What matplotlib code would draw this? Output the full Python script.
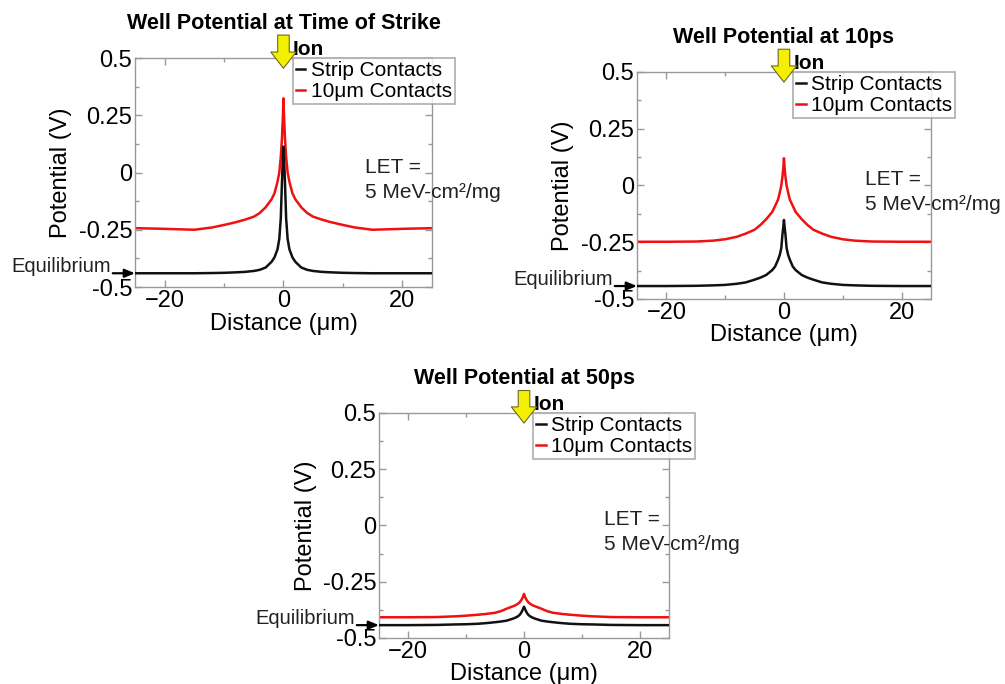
import matplotlib
matplotlib.use("Agg")
from matplotlib import pyplot as plt

plt.rcParams['font.family'] = ['Liberation Sans', 'DejaVu Sans']

# distance samples (um)
dist = [-25, -20, -15, -12, -10, -8, -6.5, -5, -4, -3, -2, -1.5, -1, -0.7, -0.45, -0.25, -0.1, 0,
        0.1, 0.25, 0.45, 0.7, 1, 1.5, 2, 3, 4, 5, 6.5, 8, 10, 12, 15, 20, 25]

# time of strike
strip_t0 = [-0.44, -0.44, -0.44, -0.439, -0.438, -0.436, -0.434, -0.43, -0.425, -0.415, -0.39,
            -0.37, -0.335, -0.29, -0.2, -0.04, 0.06, 0.113,
            0.06, -0.04, -0.2, -0.29, -0.335, -0.37, -0.39, -0.415, -0.425, -0.43, -0.434,
            -0.436, -0.438, -0.439, -0.44, -0.44, -0.44]
ten_t0 = [-0.243, -0.246, -0.25, -0.24, -0.229, -0.217, -0.206, -0.193, -0.177, -0.152, -0.117,
          -0.09, -0.04, 0.0, 0.068, 0.15, 0.24, 0.324,
          0.24, 0.15, 0.068, 0.0, -0.04, -0.09, -0.117, -0.152, -0.177, -0.193, -0.206,
          -0.217, -0.229, -0.24, -0.25, -0.246, -0.243]

# 10 ps
strip_t10 = [-0.443, -0.443, -0.442, -0.44, -0.438, -0.433, -0.427, -0.415, -0.406, -0.394, -0.373,
             -0.357, -0.327, -0.305, -0.275, -0.215, -0.18, -0.152,
             -0.18, -0.215, -0.275, -0.305, -0.327, -0.357, -0.373, -0.394, -0.406, -0.415, -0.427,
             -0.433, -0.438, -0.44, -0.442, -0.443, -0.443]
ten_t10 = [-0.248, -0.248, -0.247, -0.243, -0.237, -0.226, -0.212, -0.195, -0.174, -0.148, -0.117,
           -0.09, -0.062, -0.03, 0.0, 0.039, 0.08, 0.12,
           0.08, 0.039, 0.0, -0.03, -0.062, -0.09, -0.117, -0.148, -0.174, -0.195, -0.212,
           -0.226, -0.237, -0.243, -0.247, -0.248, -0.248]

# 50 ps
strip_t50 = [-0.443, -0.443, -0.442, -0.44, -0.439, -0.437, -0.434, -0.43, -0.427, -0.423, -0.415,
             -0.41, -0.403, -0.396, -0.386, -0.376, -0.367, -0.361,
             -0.367, -0.376, -0.386, -0.396, -0.403, -0.41, -0.415, -0.423, -0.427, -0.43, -0.434,
             -0.437, -0.439, -0.44, -0.442, -0.443, -0.443]
ten_t50 = [-0.408, -0.408, -0.407, -0.404, -0.401, -0.397, -0.393, -0.388, -0.381, -0.37, -0.36,
           -0.355, -0.347, -0.34, -0.331, -0.322, -0.312, -0.304,
           -0.312, -0.322, -0.331, -0.34, -0.347, -0.355, -0.36, -0.37, -0.381, -0.388, -0.393,
           -0.397, -0.401, -0.404, -0.407, -0.408, -0.408]

titles = ['Well Potential at Time of Strike', 'Well Potential at 10ps', 'Well Potential at 50ps']
strips = [strip_t0, strip_t10, strip_t50]
tens = [ten_t0, ten_t10, ten_t50]
# axes rectangles in figure fraction
rects = [[0.1343, 0.5804, 0.2955, 0.3348],
         [0.6338, 0.5629, 0.2925, 0.3319],
         [0.3771, 0.0673, 0.2886, 0.3289]]

fig = plt.figure(figsize=(10.05, 6.84), dpi=100)

for k in range(3):
    ax = fig.add_axes(rects[k])
    ax.plot(dist, tens[k], color='#f01010', lw=1.8, label='10\u03bcm Contacts', zorder=2,
            solid_joinstyle='round')
    ax.plot(dist, strips[k], color='#111111', lw=1.8, label='Strip Contacts', zorder=3,
            solid_joinstyle='round')
    ax.set_xlim(-25, 25)
    ax.set_ylim(-0.5, 0.5)
    ax.set_xticks([-20, 0, 20])
    ax.set_xticks([-10, 10], minor=True)
    ax.set_yticks([-0.5, -0.25, 0, 0.25, 0.5])
    ax.set_yticklabels(['-0.5', '-0.25', '0', '0.25', '0.5'])
    ax.set_yticks([-0.375, -0.125, 0.125, 0.375], minor=True)
    ax.tick_params(which='both', direction='in', top=True, right=True, color='#999999',
                   labelsize=17, width=1)
    ax.tick_params(which='major', length=5, pad=2)
    ax.tick_params(which='minor', length=3)
    for s in ax.spines.values():
        s.set_color('#999999')
        s.set_linewidth(1)
    ax.set_xlabel('Distance (\u03bcm)', fontsize=17)
    ax.set_ylabel('Potential (V)', fontsize=17)
    ax.xaxis.set_label_coords(0.5, -0.112)
    ax.yaxis.set_label_coords(-0.213, 0.5)

    ax.text(0.5, 1.127, titles[k], transform=ax.transAxes, ha='center', va='baseline',
            fontsize=15.5, fontweight='bold')

    # legend (black first)
    h, l = ax.get_legend_handles_labels()
    leg = ax.legend(h[::-1], l[::-1], loc='upper left', bbox_to_anchor=(0.532, 1.0),
                    fontsize=15, frameon=True, fancybox=False, borderaxespad=0,
                    handlelength=0.45, handletextpad=0.25, labelspacing=0.1,
                    borderpad=0.15)
    leg.get_frame().set_edgecolor('#999999')
    leg.get_frame().set_linewidth(1.2)
    leg.set_zorder(5)

    # ion arrow
    ax.annotate('', xy=(0, 0.455), xytext=(0, 0.6), xycoords='data',
                arrowprops=dict(arrowstyle='simple,head_length=0.45,head_width=0.7,tail_width=0.32',
                                fc='#f5f000', ec='#6b6b20', lw=0.8, shrinkA=0, shrinkB=0,
                                mutation_scale=26),
                annotation_clip=False, zorder=6)
    ax.text(1.6, 0.513, 'Ion', fontsize=15, fontweight='bold', ha='left', va='baseline')

    # equilibrium marker
    base = strips[k][0]
    ax.annotate('', xy=(-25, base), xytext=(-16, 0), textcoords='offset points',
                arrowprops=dict(arrowstyle='-|>,head_length=0.6,head_width=0.25', color='k',
                                lw=1.6, shrinkA=0, shrinkB=0),
                annotation_clip=False)
    ax.annotate('Equilibrium', xy=(-25, base), xytext=(-17, 1), textcoords='offset points',
                ha='right', va='baseline', fontsize=14.5, color='#222222',
                annotation_clip=False)

    ax.text(0.775, 0.5, 'LET =', transform=ax.transAxes, fontsize=15, color='#222222',
            va='baseline', ha='left')
    ax.text(0.775, 0.39, '5 MeV-cm\u00b2/mg', transform=ax.transAxes, fontsize=15,
            color='#222222', va='baseline', ha='left')

fig.savefig('out.png', dpi=100)
